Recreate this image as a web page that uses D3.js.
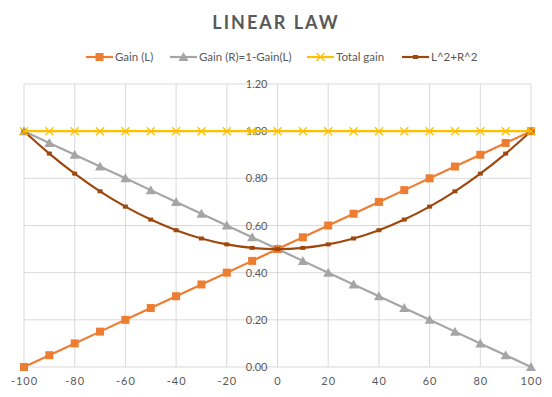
<!DOCTYPE html>
<html><head><meta charset="utf-8">
<script src="https://cdn.jsdelivr.net/npm/d3@7"></script>
<style>body{margin:0;background:#fff}svg{display:block}text{font-family:Lato,"Open Sans",sans-serif}</style>
</head><body><svg id="c" width="552" height="397"></svg>
<script>
const xValues = [-100,-90,-80,-70,-60,-50,-40,-30,-20,-10,0,10,20,30,40,50,60,70,80,90,100];
const gainL = [0,0.05,0.10,0.15,0.20,0.25,0.30,0.35,0.40,0.45,0.50,0.55,0.60,0.65,0.70,0.75,0.80,0.85,0.90,0.95,1.00];
const gainR = [1.00,0.95,0.90,0.85,0.80,0.75,0.70,0.65,0.60,0.55,0.50,0.45,0.40,0.35,0.30,0.25,0.20,0.15,0.10,0.05,0];
const totalGain = [1,1,1,1,1,1,1,1,1,1,1,1,1,1,1,1,1,1,1,1,1];
const sumSquares = [1.000,0.905,0.820,0.745,0.680,0.625,0.580,0.545,0.520,0.505,0.500,0.505,0.520,0.545,0.580,0.625,0.680,0.745,0.820,0.905,1.000];
const xTicks = [-100,-80,-60,-40,-20,0,20,40,60,80,100];
const yTicks = [0,0.2,0.4,0.6,0.8,1.0,1.2];
const seriesNames = ["Gain (L)","Gain (R)=1-Gain(L)","Total gain","L^2+R^2"];

const svg = d3.select("#c");
const x = d3.scaleLinear().domain([-100,100]).range([24,531]);
const y = d3.scaleLinear().domain([0,1.2]).range([367,84]);

svg.append("text").attr("x",276).attr("y",29).attr("text-anchor","middle")
  .attr("font-size",18).attr("font-weight","bold").attr("fill","#595959")
  .attr("letter-spacing","2px").text("LINEAR LAW");

const grid = svg.append("g");
yTicks.forEach(t=>grid.append("line").attr("x1",24).attr("x2",531).attr("y1",y(t)).attr("y2",y(t)).attr("stroke","#d9d9d9"));
xTicks.forEach(t=>grid.append("line").attr("x1",x(t)).attr("x2",x(t)).attr("y1",84).attr("y2",367).attr("stroke","#d9d9d9"));

const yAxis = d3.axisLeft(y).tickValues(yTicks).tickFormat(d3.format(".2f")).tickSize(0).tickPadding(10);
const ya = svg.append("g").attr("transform",`translate(${x(0)},0)`).call(yAxis);
ya.select(".domain").remove();
ya.selectAll("text").attr("font-size",11).attr("fill","#595959").attr("font-family","Lato,sans-serif");

const xAxis = d3.axisBottom(x).tickValues(xTicks).tickFormat(d=>String(d)).tickSize(0).tickPadding(10);
const xa = svg.append("g").attr("transform",`translate(0,367)`).call(xAxis);
xa.select(".domain").remove();
xa.selectAll("text").attr("font-size",11).attr("fill","#595959").attr("letter-spacing","1px").attr("font-family","Lato,sans-serif");

const colors = ["#ED7D31","#A5A5A5","#FFC000","#9E480E"];
const data = [gainL,gainR,totalGain,sumSquares];
const line = d3.line().x((d,i)=>x(xValues[i])).y(d=>y(d));
const curve = d3.line().x((d,i)=>x(xValues[i])).y(d=>y(d)).curve(d3.curveMonotoneX);

function marker(g,type,cx,cy,color){
  if(type===0) g.append("rect").attr("x",cx-4).attr("y",cy-4).attr("width",8).attr("height",8).attr("fill",color);
  else if(type===1) g.append("path").attr("d",`M${cx},${cy-5}L${cx+5},${cy+4}L${cx-5},${cy+4}Z`).attr("fill",color);
  else if(type===2) g.append("path").attr("d",`M${cx-4},${cy-4}L${cx+4},${cy+4}M${cx+4},${cy-4}L${cx-4},${cy+4}`).attr("stroke",color).attr("stroke-width",1.3);
  else g.append("rect").attr("x",cx-2.5).attr("y",cy-2).attr("width",5).attr("height",4).attr("fill",color);
}

[1,0,3,2].forEach(s=>{
  const g = svg.append("g");
  g.append("path").attr("d",(s===3?curve:line)(data[s])).attr("fill","none")
    .attr("stroke",colors[s]).attr("stroke-width",2.2);
  data[s].forEach((v,i)=>marker(g,s,x(xValues[i]),y(v),colors[s]));
});

const legX = [86,170,307,402];
const lg = svg.append("g");
seriesNames.forEach((n,s)=>{
  const lx = legX[s], ly = 57;
  lg.append("line").attr("x1",lx).attr("x2",lx+27).attr("y1",ly).attr("y2",ly).attr("stroke",colors[s]).attr("stroke-width",2.2);
  marker(lg,s,lx+13.5,ly,colors[s]);
  lg.append("text").attr("x",lx+29).attr("y",ly+4).attr("font-size",11.5).attr("fill","#595959").text(n);
});
</script></body></html>
